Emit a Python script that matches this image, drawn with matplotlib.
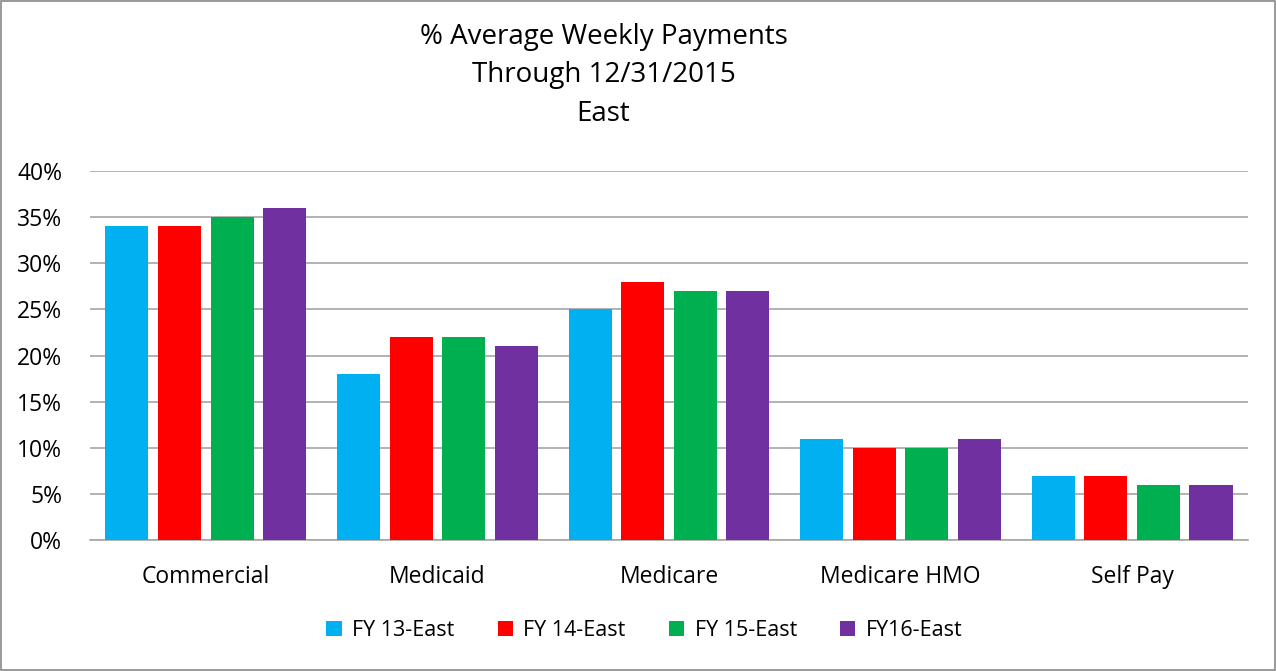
import matplotlib
matplotlib.use("Agg")
import matplotlib.pyplot as plt
import numpy as np

# ── Data ──────────────────────────────────────────────────────────────
categories = ["Commercial", "Medicaid", "Medicare", "Medicare HMO", "Self Pay"]
series = ["FY 13-East", "FY 14-East", "FY 15-East", "FY16-East"]
fy13 = [34, 18, 25, 11, 7]
fy14 = [34, 22, 28, 10, 7]
fy15 = [35, 22, 27, 10, 6]
fy16 = [36, 21, 27, 11, 6]
values = [fy13, fy14, fy15, fy16]
colors = ["#00B0F0", "#FF0000", "#00B050", "#7030A0"]

# ── Style ─────────────────────────────────────────────────────────────
plt.rcParams["font.family"] = ["Open Sans", "DejaVu Sans"]

fig = plt.figure(figsize=(12.76, 6.71), dpi=100)
ax = fig.add_axes([0.0705, 0.195, 0.9075, 0.55])

x = np.arange(len(categories))
step, w = 0.227, 0.186
for i, (vals, c, lab) in enumerate(zip(values, colors, series)):
    ax.bar(x + (i - 1.5) * step, vals, w, color=c, label=lab, zorder=3)

ax.set_xlim(-0.5, len(categories) - 0.5)
ax.set_ylim(0, 40)
ax.set_yticks(range(0, 41, 5))
ax.set_yticklabels([f"{t}%" for t in range(0, 41, 5)], fontsize=16.5)
ax.set_xticks(x)
ax.set_xticklabels(categories, fontsize=16.5)
ax.tick_params(axis="y", length=0, pad=20)
ax.tick_params(axis="x", length=0, pad=18)
ax.grid(True, axis="y", color="#A6A6A6", linewidth=1.2, zorder=0)
for s in ["top", "right", "left"]:
    ax.spines[s].set_visible(False)
ax.spines["bottom"].set_color("#A6A6A6")
ax.spines["bottom"].set_linewidth(1.2)

fig.text(0.473, 0.966, "% Average Weekly Payments\nThrough 12/31/2015\nEast",
         ha="center", va="top", fontsize=20, linespacing=1.5)

fig.legend(loc="center", bbox_to_anchor=(0.505, 0.060), ncol=4, frameon=False,
           fontsize=15.5, handlelength=0.7, handleheight=0.7, columnspacing=2.0,
           handletextpad=0.5)

# outer border
fig.patches.append(plt.Rectangle((0.001, 0.001), 0.998, 0.997, transform=fig.transFigure,
                                 fill=False, edgecolor="#888888", linewidth=1.2))

fig.savefig("out.png", dpi=100)
